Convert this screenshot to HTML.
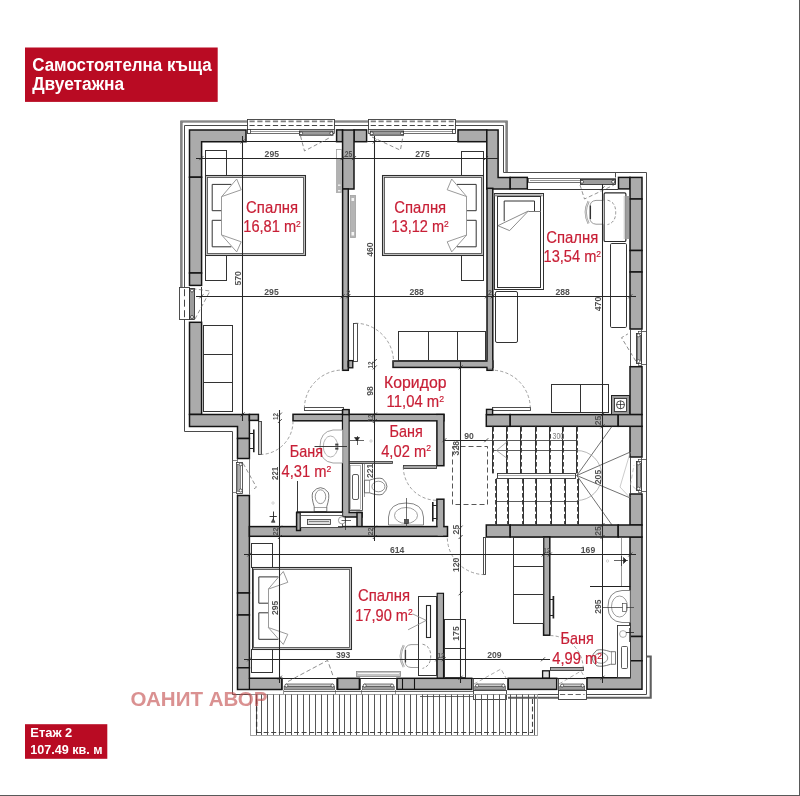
<!DOCTYPE html>
<html lang="bg">
<head>
<meta charset="utf-8">
<title>Самостоятелна къща - Етаж 2</title>
<style>
html,body{margin:0;padding:0;background:#fff;}
body{width:800px;height:796px;overflow:hidden;position:relative;font-family:"Liberation Sans",sans-serif;}
svg{position:absolute;left:0;top:0;display:block;will-change:transform;}
svg text{font-family:"Liberation Sans",sans-serif;}
</style>
</head>
<body>
<svg width="800" height="796" viewBox="0 0 800 796">
<rect x="0" y="0" width="800" height="796" fill="#ffffff"/>
<rect x="799" y="0" width="1" height="796" fill="#595959"/>
<rect x="0" y="795" width="800" height="1" fill="#595959"/>
<path d="M181.40,287.20 L181.40,121.50 L506.60,121.50 L506.60,172.50" fill="none" stroke="#5a5a5a" stroke-width="2.2" />
<path d="M181.40,287.20 L181.40,121.50 L506.60,121.50 L506.60,172.50" fill="none" stroke="#9c9c9c" stroke-width="0.7" />
<path d="M232.50,690.00 L232.50,431.50 L184.50,431.50 L184.50,125.50 L503.50,125.50 L503.50,172.50 L646.50,172.50 L646.50,694.50 L508.00,694.50" fill="none" stroke="#4a4a4a" stroke-width="1" />
<path d="M232.50,689.00 L232.50,694.50 L257.00,694.50" fill="none" stroke="#4a4a4a" stroke-width="1" />
<line x1="615.50" y1="172.50" x2="615.50" y2="177.50" stroke="#4a4a4a" stroke-width="1" />
<path d="M646.50,656.50 L650.70,656.50 L650.70,697.80 L508.00,697.80" fill="none" stroke="#5e5e5e" stroke-width="2.1" />
<path d="M189.50,129.90 L246.00,129.90 L246.00,141.70 L201.60,141.70 L201.60,177.20 L189.50,177.20 Z" fill="#ababab" stroke="#141414" stroke-width="1.5" stroke-linejoin="miter"/>
<rect x="189.50" y="177.20" width="12.10" height="95.80" fill="#ababab" stroke="#141414" stroke-width="1.5"/>
<rect x="189.50" y="273.00" width="12.10" height="12.40" fill="#ababab" stroke="#141414" stroke-width="1.5"/>
<rect x="336.60" y="129.90" width="6.00" height="11.80" fill="#ababab" stroke="#141414" stroke-width="1.5"/>
<rect x="354.00" y="129.90" width="12.60" height="11.80" fill="#ababab" stroke="#141414" stroke-width="1.5"/>
<rect x="458.00" y="129.90" width="28.80" height="11.80" fill="#ababab" stroke="#141414" stroke-width="1.5"/>
<path d="M486.80,129.90 L498.10,129.90 L498.10,177.40 L510.20,177.40 L510.20,188.90 L486.80,188.90 Z" fill="#ababab" stroke="#141414" stroke-width="1.5" stroke-linejoin="miter"/>
<rect x="189.50" y="322.30" width="12.10" height="92.10" fill="#ababab" stroke="#141414" stroke-width="1.5"/>
<path d="M189.50,414.40 L249.40,414.40 L249.40,438.50 L237.50,438.50 L237.50,426.40 L189.50,426.40 Z" fill="#ababab" stroke="#141414" stroke-width="1.5" stroke-linejoin="miter"/>
<rect x="237.50" y="438.50" width="11.90" height="20.00" fill="#ababab" stroke="#141414" stroke-width="1.5"/>
<rect x="237.50" y="495.50" width="11.90" height="97.50" fill="#ababab" stroke="#141414" stroke-width="1.5"/>
<rect x="237.50" y="593.00" width="11.90" height="22.00" fill="#ababab" stroke="#141414" stroke-width="1.5"/>
<rect x="237.50" y="615.00" width="11.90" height="52.80" fill="#ababab" stroke="#141414" stroke-width="1.5"/>
<path d="M237.50,667.80 L249.40,667.80 L249.40,678.30 L281.80,678.30 L281.80,689.40 L237.50,689.40 Z" fill="#ababab" stroke="#141414" stroke-width="1.5" stroke-linejoin="miter"/>
<line x1="249.40" y1="678.30" x2="249.40" y2="689.40" stroke="#141414" stroke-width="1.3" />
<rect x="510.20" y="177.40" width="17.10" height="11.50" fill="#ababab" stroke="#141414" stroke-width="1.5"/>
<rect x="618.50" y="177.40" width="11.50" height="11.50" fill="#ababab" stroke="#141414" stroke-width="1.5"/>
<rect x="630.00" y="177.40" width="12.00" height="21.60" fill="#ababab" stroke="#141414" stroke-width="1.5"/>
<rect x="630.00" y="199.00" width="12.00" height="51.50" fill="#ababab" stroke="#141414" stroke-width="1.5"/>
<rect x="630.00" y="250.50" width="12.00" height="21.50" fill="#ababab" stroke="#141414" stroke-width="1.5"/>
<rect x="630.00" y="272.00" width="12.00" height="57.00" fill="#ababab" stroke="#141414" stroke-width="1.5"/>
<rect x="630.00" y="366.70" width="12.00" height="47.90" fill="#ababab" stroke="#141414" stroke-width="1.5"/>
<rect x="630.00" y="426.30" width="12.00" height="30.70" fill="#ababab" stroke="#141414" stroke-width="1.5"/>
<rect x="630.00" y="494.00" width="12.00" height="31.00" fill="#ababab" stroke="#141414" stroke-width="1.5"/>
<rect x="630.00" y="537.00" width="12.00" height="99.50" fill="#ababab" stroke="#141414" stroke-width="1.5"/>
<rect x="630.00" y="636.50" width="12.00" height="24.30" fill="#ababab" stroke="#141414" stroke-width="1.5"/>
<path d="M630.00,660.80 L642.00,660.80 L642.00,689.30 L587.00,689.30 L587.00,677.80 L630.00,677.80 Z" fill="#ababab" stroke="#141414" stroke-width="1.5" stroke-linejoin="miter"/>
<rect x="337.60" y="678.30" width="21.80" height="11.10" fill="#ababab" stroke="#141414" stroke-width="1.5"/>
<rect x="397.00" y="678.30" width="74.80" height="11.10" fill="#ababab" stroke="#141414" stroke-width="1.5"/>
<line x1="402.50" y1="678.30" x2="402.50" y2="689.40" stroke="#141414" stroke-width="1.1" />
<line x1="414.50" y1="678.30" x2="414.50" y2="689.40" stroke="#141414" stroke-width="1.1" />
<rect x="508.20" y="678.30" width="48.50" height="11.10" fill="#ababab" stroke="#141414" stroke-width="1.5"/>
<rect x="486.30" y="414.60" width="23.90" height="11.70" fill="#ababab" stroke="#141414" stroke-width="1.5"/>
<rect x="510.20" y="414.60" width="108.00" height="11.70" fill="#ababab" stroke="#141414" stroke-width="1.5"/>
<rect x="618.20" y="414.60" width="23.80" height="11.70" fill="#ababab" stroke="#141414" stroke-width="1.5"/>
<rect x="486.30" y="525.00" width="23.90" height="12.00" fill="#ababab" stroke="#141414" stroke-width="1.5"/>
<rect x="510.20" y="525.00" width="108.00" height="12.00" fill="#ababab" stroke="#141414" stroke-width="1.5"/>
<rect x="618.20" y="525.00" width="23.80" height="12.00" fill="#ababab" stroke="#141414" stroke-width="1.5"/>
<rect x="342.60" y="130.00" width="11.40" height="59.00" fill="#ababab" stroke="#141414" stroke-width="1.5"/>
<rect x="342.60" y="189.00" width="5.70" height="181.30" fill="#ababab" stroke="#141414" stroke-width="1.5"/>
<rect x="348.30" y="361.50" width="3.70" height="5.00" fill="#ababab" stroke="#141414" stroke-width="1.5"/>
<rect x="487.00" y="188.30" width="5.80" height="182.00" fill="#ababab" stroke="#141414" stroke-width="1.5"/>
<rect x="393.00" y="361.00" width="99.80" height="6.40" fill="#ababab" stroke="#141414" stroke-width="1.5"/>
<rect x="487.6" y="360" width="4.6" height="8" fill="#ababab"/>
<rect x="293.00" y="414.30" width="150.90" height="6.50" fill="#ababab" stroke="#141414" stroke-width="1.5"/>
<rect x="249.40" y="414.40" width="9.00" height="6.00" fill="#ababab" stroke="#141414" stroke-width="1.5"/>
<rect x="342.60" y="410.00" width="6.40" height="102.50" fill="#ababab" stroke="#141414" stroke-width="1.5"/>
<rect x="342.60" y="512.50" width="19.40" height="4.50" fill="#ababab" stroke="#141414" stroke-width="1.5"/>
<rect x="357.00" y="512.50" width="5.00" height="18.00" fill="#ababab" stroke="#141414" stroke-width="1.5"/>
<rect x="343.2" y="415.3" width="5.2" height="100" fill="#ababab"/>
<rect x="436.90" y="414.60" width="7.00" height="51.10" fill="#ababab" stroke="#141414" stroke-width="1.5"/>
<rect x="430" y="415.1" width="13.1" height="5" fill="#ababab"/>
<rect x="436.90" y="499.20" width="7.00" height="28.40" fill="#ababab" stroke="#141414" stroke-width="1.5"/>
<rect x="249.40" y="526.60" width="198.10" height="9.70" fill="#ababab" stroke="#141414" stroke-width="1.5"/>
<rect x="437.7" y="520" width="5.4" height="15.5" fill="#ababab"/>
<rect x="296.60" y="512.60" width="3.80" height="17.90" fill="#ababab" stroke="#141414" stroke-width="1.5"/>
<rect x="543.60" y="537.00" width="6.20" height="98.20" fill="#ababab" stroke="#141414" stroke-width="1.5"/>
<rect x="542.60" y="670.80" width="6.80" height="7.20" fill="#e0e0e0" stroke="#141414" stroke-width="1.3"/>
<rect x="437.20" y="593.30" width="6.30" height="84.70" fill="#ababab" stroke="#141414" stroke-width="1.15"/>
<rect x="247.50" y="119.50" width="87.00" height="10.00" fill="#fff" stroke="#3c3c3c" stroke-width="0.9" />
<line x1="249.50" y1="121.40" x2="332.60" y2="121.40" stroke="#808080" stroke-width="1.8" stroke-dasharray="5.2 2.6"/>
<line x1="249.50" y1="125.50" x2="332.60" y2="125.50" stroke="#444" stroke-width="1" stroke-dasharray="5.2 2.6"/>
<rect x="247.50" y="129.50" width="87.00" height="4.00" fill="#fff" stroke="#333" stroke-width="0.7" />
<line x1="250.50" y1="131.50" x2="299.50" y2="131.50" stroke="#555" stroke-width="0.6" />
<rect x="247.50" y="129.50" width="3.00" height="4.00" fill="#fff" stroke="#222" stroke-width="0.7" />
<rect x="299.50" y="131" width="33.50" height="4.2" fill="#9c9c9c" stroke="#222" stroke-width="0.8"/>
<circle cx="301.10" cy="133.3" r="1.5" fill="#fff" stroke="#222" stroke-width="0.7"/>
<circle cx="331.40" cy="133.3" r="1.5" fill="#fff" stroke="#222" stroke-width="0.7"/>
<line x1="246.00" y1="141.50" x2="336.60" y2="141.50" stroke="#222" stroke-width="1" />
<path d="M300.50,136.00 L304.50,151.00 L331.00,137.00" fill="none" stroke="#707070" stroke-width="0.8" stroke-dasharray="4 2.5"/>
<rect x="368.50" y="119.50" width="87.00" height="10.00" fill="#fff" stroke="#3c3c3c" stroke-width="0.9" />
<line x1="370.70" y1="121.40" x2="453.70" y2="121.40" stroke="#808080" stroke-width="1.8" stroke-dasharray="5.2 2.6"/>
<line x1="370.70" y1="125.50" x2="453.70" y2="125.50" stroke="#444" stroke-width="1" stroke-dasharray="5.2 2.6"/>
<rect x="368.50" y="129.50" width="87.00" height="4.00" fill="#fff" stroke="#333" stroke-width="0.7" />
<line x1="403.60" y1="131.50" x2="452.70" y2="131.50" stroke="#555" stroke-width="0.6" />
<rect x="452.50" y="129.50" width="3.00" height="4.00" fill="#fff" stroke="#222" stroke-width="0.7" />
<rect x="370.20" y="131" width="33.40" height="4.2" fill="#9c9c9c" stroke="#222" stroke-width="0.8"/>
<circle cx="371.80" cy="133.3" r="1.5" fill="#fff" stroke="#222" stroke-width="0.7"/>
<circle cx="402.00" cy="133.3" r="1.5" fill="#fff" stroke="#222" stroke-width="0.7"/>
<line x1="367.20" y1="141.50" x2="457.70" y2="141.50" stroke="#222" stroke-width="1" />
<path d="M372.00,137.00 L400.40,150.20 L403.00,136.00" fill="none" stroke="#707070" stroke-width="0.8" stroke-dasharray="4 2.5"/>
<rect x="528.50" y="178.50" width="87.00" height="4.00" fill="#fff" stroke="#333" stroke-width="0.7" />
<line x1="530.00" y1="180.50" x2="580.00" y2="180.50" stroke="#555" stroke-width="0.6" />
<rect x="580.50" y="179.50" width="35.00" height="5.00" fill="#9c9c9c" stroke="#222" stroke-width="0.8" />
<circle cx="582" cy="181.8" r="1.5" fill="#fff" stroke="#222" stroke-width="0.7"/>
<circle cx="613.2" cy="181.8" r="1.5" fill="#fff" stroke="#222" stroke-width="0.7"/>
<line x1="527.30" y1="189.50" x2="618.00" y2="189.50" stroke="#222" stroke-width="0.9" />
<path d="M580.00,185.00 L584.50,199.00 L614.00,185.00" fill="none" stroke="#666" stroke-width="0.7" stroke-dasharray="4 2.5"/>
<rect x="179.50" y="287.50" width="10.00" height="32.00" fill="#fff" stroke="#3c3c3c" stroke-width="0.9" />
<line x1="184.50" y1="289.20" x2="184.50" y2="317.60" stroke="#444" stroke-width="1" stroke-dasharray="7 3.5"/>
<rect x="189.50" y="288.50" width="5.00" height="31.00" fill="#9c9c9c" stroke="#222" stroke-width="0.8" />
<circle cx="192" cy="290.5" r="1.5" fill="#fff" stroke="#222" stroke-width="0.7"/>
<circle cx="192" cy="317" r="1.5" fill="#fff" stroke="#222" stroke-width="0.7"/>
<line x1="201.50" y1="287.00" x2="201.50" y2="322.70" stroke="#222" stroke-width="0.9" />
<path d="M195.00,319.00 L210.00,291.00 L195.00,289.00" fill="none" stroke="#666" stroke-width="0.7" stroke-dasharray="4 2.5"/>
<line x1="249.50" y1="458.60" x2="249.50" y2="494.70" stroke="#555" stroke-width="0.8" />
<line x1="237.50" y1="458.60" x2="237.50" y2="494.70" stroke="#444" stroke-width="0.7" />
<rect x="236.50" y="462.50" width="6.00" height="31.00" fill="#fff" stroke="#333" stroke-width="0.8" />
<rect x="237.50" y="464.50" width="3.00" height="27.00" fill="#ababab" stroke="#555" stroke-width="0.6" />
<circle cx="240.7" cy="464.3" r="1.5" fill="#fff" stroke="#333" stroke-width="0.7"/>
<circle cx="240.7" cy="490.5" r="1.5" fill="#fff" stroke="#333" stroke-width="0.7"/>
<line x1="232.70" y1="460.50" x2="237.00" y2="460.50" stroke="#666" stroke-width="0.8" />
<line x1="232.70" y1="492.50" x2="237.00" y2="492.50" stroke="#666" stroke-width="0.8" />
<path d="M243.20,463.50 L256.40,487.20 L251.90,490.20" fill="none" stroke="#777" stroke-width="0.8" stroke-dasharray="4 2.5"/>
<line x1="630.50" y1="329.40" x2="630.50" y2="366.10" stroke="#222" stroke-width="0.8" />
<line x1="641.50" y1="329.40" x2="641.50" y2="366.10" stroke="#333" stroke-width="0.8" />
<rect x="636.50" y="333.50" width="5.00" height="30.00" fill="#fff" stroke="#333" stroke-width="0.9" />
<rect x="637.50" y="335.50" width="3.00" height="25.00" fill="#b4b4b4" stroke="#444" stroke-width="0.7" />
<rect x="638.50" y="331.50" width="3.00" height="2.00" fill="#fff" stroke="#333" stroke-width="0.6" />
<rect x="638.50" y="363.50" width="3.00" height="2.00" fill="#fff" stroke="#333" stroke-width="0.6" />
<circle cx="638.5" cy="335.30" r="1.5" fill="#fff" stroke="#333" stroke-width="0.7"/>
<circle cx="638.5" cy="361.10" r="1.5" fill="#fff" stroke="#333" stroke-width="0.7"/>
<line x1="641.80" y1="331.50" x2="646.70" y2="331.50" stroke="#444" stroke-width="0.8" />
<line x1="641.80" y1="364.50" x2="646.70" y2="364.50" stroke="#444" stroke-width="0.8" />
<line x1="630.50" y1="457.40" x2="630.50" y2="493.60" stroke="#222" stroke-width="0.8" />
<line x1="641.50" y1="457.40" x2="641.50" y2="493.60" stroke="#333" stroke-width="0.8" />
<rect x="636.50" y="461.50" width="5.00" height="29.00" fill="#fff" stroke="#333" stroke-width="0.9" />
<rect x="637.50" y="463.50" width="3.00" height="24.00" fill="#b4b4b4" stroke="#444" stroke-width="0.7" />
<rect x="638.50" y="459.50" width="3.00" height="2.00" fill="#fff" stroke="#333" stroke-width="0.6" />
<rect x="638.50" y="490.50" width="3.00" height="2.00" fill="#fff" stroke="#333" stroke-width="0.6" />
<circle cx="638.5" cy="463.30" r="1.5" fill="#fff" stroke="#333" stroke-width="0.7"/>
<circle cx="638.5" cy="488.60" r="1.5" fill="#fff" stroke="#333" stroke-width="0.7"/>
<line x1="641.80" y1="459.50" x2="646.70" y2="459.50" stroke="#444" stroke-width="0.8" />
<line x1="641.80" y1="491.50" x2="646.70" y2="491.50" stroke="#444" stroke-width="0.8" />
<path d="M635.80,361.10 L621.50,337.70 L627.90,333.90" fill="none" stroke="#707070" stroke-width="0.8" stroke-dasharray="4 2.5"/>
<path d="M635.80,489.00 L630.50,484.50 L634.00,465.00" fill="none" stroke="#aaa" stroke-width="0.7" stroke-dasharray="4 2.5"/>
<line x1="281.10" y1="678.50" x2="337.60" y2="678.50" stroke="#222" stroke-width="1.1" />
<rect x="284.10" y="686.4" width="50.50" height="3.4" fill="#9c9c9c" stroke="#444" stroke-width="0.6"/>
<rect x="285.30" y="684.1" width="48.10" height="2.1" rx="1" fill="#fff" stroke="#333" stroke-width="0.8"/>
<circle cx="286.40" cy="685.6" r="1.5" fill="#fff" stroke="#333" stroke-width="0.7"/>
<circle cx="332.50" cy="685.6" r="1.5" fill="#fff" stroke="#333" stroke-width="0.7"/>
<line x1="282.50" y1="678.10" x2="282.50" y2="690.00" stroke="#333" stroke-width="0.8" />
<line x1="336.50" y1="678.10" x2="336.50" y2="690.00" stroke="#333" stroke-width="0.8" />
<line x1="283.50" y1="690.00" x2="283.50" y2="694.00" stroke="#666" stroke-width="0.7" />
<line x1="335.50" y1="690.00" x2="335.50" y2="694.00" stroke="#666" stroke-width="0.7" />
<line x1="359.40" y1="678.50" x2="397.20" y2="678.50" stroke="#222" stroke-width="1.1" />
<rect x="362.40" y="686.4" width="31.80" height="3.4" fill="#9c9c9c" stroke="#444" stroke-width="0.6"/>
<rect x="363.60" y="684.1" width="29.40" height="2.1" rx="1" fill="#fff" stroke="#333" stroke-width="0.8"/>
<circle cx="364.70" cy="685.6" r="1.5" fill="#fff" stroke="#333" stroke-width="0.7"/>
<circle cx="392.10" cy="685.6" r="1.5" fill="#fff" stroke="#333" stroke-width="0.7"/>
<line x1="360.50" y1="678.10" x2="360.50" y2="690.00" stroke="#333" stroke-width="0.8" />
<line x1="396.50" y1="678.10" x2="396.50" y2="690.00" stroke="#333" stroke-width="0.8" />
<line x1="361.50" y1="690.00" x2="361.50" y2="694.00" stroke="#666" stroke-width="0.7" />
<line x1="395.50" y1="690.00" x2="395.50" y2="694.00" stroke="#666" stroke-width="0.7" />
<line x1="471.80" y1="678.50" x2="508.50" y2="678.50" stroke="#222" stroke-width="1.1" />
<rect x="474.80" y="686.4" width="30.70" height="3.4" fill="#9c9c9c" stroke="#444" stroke-width="0.6"/>
<rect x="476.00" y="684.1" width="28.30" height="2.1" rx="1" fill="#fff" stroke="#333" stroke-width="0.8"/>
<circle cx="477.10" cy="685.6" r="1.5" fill="#fff" stroke="#333" stroke-width="0.7"/>
<circle cx="503.40" cy="685.6" r="1.5" fill="#fff" stroke="#333" stroke-width="0.7"/>
<line x1="473.50" y1="678.10" x2="473.50" y2="690.00" stroke="#333" stroke-width="0.8" />
<line x1="507.50" y1="678.10" x2="507.50" y2="690.00" stroke="#333" stroke-width="0.8" />
<rect x="473.50" y="690.50" width="33.00" height="9.00" fill="#fff" stroke="#3c3c3c" stroke-width="0.9" />
<line x1="475.00" y1="694.50" x2="505.30" y2="694.50" stroke="#555" stroke-width="0.9" stroke-dasharray="5.2 2.6"/>
<line x1="556.80" y1="678.50" x2="587.70" y2="678.50" stroke="#222" stroke-width="1.1" />
<rect x="559.80" y="686.4" width="24.90" height="3.4" fill="#9c9c9c" stroke="#444" stroke-width="0.6"/>
<rect x="561.00" y="684.1" width="22.50" height="2.1" rx="1" fill="#fff" stroke="#333" stroke-width="0.8"/>
<circle cx="562.10" cy="685.6" r="1.5" fill="#fff" stroke="#333" stroke-width="0.7"/>
<circle cx="582.60" cy="685.6" r="1.5" fill="#fff" stroke="#333" stroke-width="0.7"/>
<line x1="558.50" y1="678.10" x2="558.50" y2="690.00" stroke="#333" stroke-width="0.8" />
<line x1="586.50" y1="678.10" x2="586.50" y2="690.00" stroke="#333" stroke-width="0.8" />
<rect x="558.50" y="690.50" width="28.00" height="9.00" fill="#fff" stroke="#3c3c3c" stroke-width="0.9" />
<line x1="560.00" y1="694.50" x2="584.50" y2="694.50" stroke="#555" stroke-width="0.9" stroke-dasharray="5.2 2.6"/>
<path d="M288.00,681.50 L327.60,660.40 L333.60,677.50" fill="none" stroke="#707070" stroke-width="0.8" stroke-dasharray="4.5 2.5"/>
<path d="M474.00,684.00 L501.00,669.00 L506.00,678.00" fill="none" stroke="#888" stroke-width="0.7" stroke-dasharray="4 2.5"/>
<path d="M559.00,684.00 L581.00,671.00 L585.00,678.00" fill="none" stroke="#888" stroke-width="0.7" stroke-dasharray="4 2.5"/>
<rect x="356.50" y="671.50" width="44.00" height="5.00" fill="#c4c4c4" stroke="#8a8a8a" stroke-width="0.8" />
<line x1="358.00" y1="673.50" x2="399.00" y2="673.50" stroke="#f4f4f4" stroke-width="1" />
<rect x="250.50" y="694.50" width="287.00" height="41.00" fill="none" stroke="#9a9a9a" stroke-width="0.9" />
<line x1="256.50" y1="694.50" x2="256.50" y2="735.00" stroke="#4d4d4d" stroke-width="0.95" />
<line x1="261.50" y1="694.50" x2="261.50" y2="735.00" stroke="#4d4d4d" stroke-width="0.95" />
<line x1="267.50" y1="694.50" x2="267.50" y2="735.00" stroke="#4d4d4d" stroke-width="0.95" />
<line x1="273.50" y1="694.50" x2="273.50" y2="735.00" stroke="#4d4d4d" stroke-width="0.95" />
<line x1="279.50" y1="694.50" x2="279.50" y2="735.00" stroke="#4d4d4d" stroke-width="0.95" />
<line x1="285.50" y1="694.50" x2="285.50" y2="735.00" stroke="#4d4d4d" stroke-width="0.95" />
<line x1="291.50" y1="694.50" x2="291.50" y2="735.00" stroke="#4d4d4d" stroke-width="0.95" />
<line x1="297.50" y1="694.50" x2="297.50" y2="735.00" stroke="#4d4d4d" stroke-width="0.95" />
<line x1="303.50" y1="694.50" x2="303.50" y2="735.00" stroke="#4d4d4d" stroke-width="0.95" />
<line x1="309.50" y1="694.50" x2="309.50" y2="735.00" stroke="#4d4d4d" stroke-width="0.95" />
<line x1="315.50" y1="694.50" x2="315.50" y2="735.00" stroke="#4d4d4d" stroke-width="0.95" />
<line x1="321.50" y1="694.50" x2="321.50" y2="735.00" stroke="#4d4d4d" stroke-width="0.95" />
<line x1="327.50" y1="694.50" x2="327.50" y2="735.00" stroke="#4d4d4d" stroke-width="0.95" />
<line x1="333.50" y1="694.50" x2="333.50" y2="735.00" stroke="#4d4d4d" stroke-width="0.95" />
<line x1="339.50" y1="694.50" x2="339.50" y2="735.00" stroke="#4d4d4d" stroke-width="0.95" />
<line x1="344.50" y1="694.50" x2="344.50" y2="735.00" stroke="#4d4d4d" stroke-width="0.95" />
<line x1="350.50" y1="694.50" x2="350.50" y2="735.00" stroke="#4d4d4d" stroke-width="0.95" />
<line x1="356.50" y1="694.50" x2="356.50" y2="735.00" stroke="#4d4d4d" stroke-width="0.95" />
<line x1="362.50" y1="694.50" x2="362.50" y2="735.00" stroke="#4d4d4d" stroke-width="0.95" />
<line x1="368.50" y1="694.50" x2="368.50" y2="735.00" stroke="#4d4d4d" stroke-width="0.95" />
<line x1="374.50" y1="694.50" x2="374.50" y2="735.00" stroke="#4d4d4d" stroke-width="0.95" />
<line x1="380.50" y1="694.50" x2="380.50" y2="735.00" stroke="#4d4d4d" stroke-width="0.95" />
<line x1="386.50" y1="694.50" x2="386.50" y2="735.00" stroke="#4d4d4d" stroke-width="0.95" />
<line x1="392.50" y1="694.50" x2="392.50" y2="735.00" stroke="#4d4d4d" stroke-width="0.95" />
<line x1="398.50" y1="694.50" x2="398.50" y2="735.00" stroke="#4d4d4d" stroke-width="0.95" />
<line x1="404.50" y1="694.50" x2="404.50" y2="735.00" stroke="#4d4d4d" stroke-width="0.95" />
<line x1="410.50" y1="694.50" x2="410.50" y2="735.00" stroke="#4d4d4d" stroke-width="0.95" />
<line x1="416.50" y1="694.50" x2="416.50" y2="735.00" stroke="#4d4d4d" stroke-width="0.95" />
<line x1="422.50" y1="694.50" x2="422.50" y2="735.00" stroke="#4d4d4d" stroke-width="0.95" />
<line x1="427.50" y1="694.50" x2="427.50" y2="735.00" stroke="#4d4d4d" stroke-width="0.95" />
<line x1="433.50" y1="694.50" x2="433.50" y2="735.00" stroke="#4d4d4d" stroke-width="0.95" />
<line x1="439.50" y1="694.50" x2="439.50" y2="735.00" stroke="#4d4d4d" stroke-width="0.95" />
<line x1="445.50" y1="694.50" x2="445.50" y2="735.00" stroke="#4d4d4d" stroke-width="0.95" />
<line x1="451.50" y1="694.50" x2="451.50" y2="735.00" stroke="#4d4d4d" stroke-width="0.95" />
<line x1="457.50" y1="694.50" x2="457.50" y2="735.00" stroke="#4d4d4d" stroke-width="0.95" />
<line x1="463.50" y1="694.50" x2="463.50" y2="735.00" stroke="#4d4d4d" stroke-width="0.95" />
<line x1="469.50" y1="694.50" x2="469.50" y2="735.00" stroke="#4d4d4d" stroke-width="0.95" />
<line x1="475.50" y1="694.50" x2="475.50" y2="735.00" stroke="#4d4d4d" stroke-width="0.95" />
<line x1="481.50" y1="694.50" x2="481.50" y2="735.00" stroke="#4d4d4d" stroke-width="0.95" />
<line x1="487.50" y1="694.50" x2="487.50" y2="735.00" stroke="#4d4d4d" stroke-width="0.95" />
<line x1="493.50" y1="694.50" x2="493.50" y2="735.00" stroke="#4d4d4d" stroke-width="0.95" />
<line x1="499.50" y1="694.50" x2="499.50" y2="735.00" stroke="#4d4d4d" stroke-width="0.95" />
<line x1="505.50" y1="694.50" x2="505.50" y2="735.00" stroke="#4d4d4d" stroke-width="0.95" />
<line x1="510.50" y1="694.50" x2="510.50" y2="735.00" stroke="#4d4d4d" stroke-width="0.95" />
<line x1="516.50" y1="694.50" x2="516.50" y2="735.00" stroke="#4d4d4d" stroke-width="0.95" />
<line x1="522.50" y1="694.50" x2="522.50" y2="735.00" stroke="#4d4d4d" stroke-width="0.95" />
<line x1="528.50" y1="694.50" x2="528.50" y2="735.00" stroke="#4d4d4d" stroke-width="0.95" />
<line x1="534.50" y1="694.50" x2="534.50" y2="735.00" stroke="#4d4d4d" stroke-width="0.95" />
<line x1="256.00" y1="732.50" x2="533.00" y2="732.50" stroke="#444" stroke-width="1.1" stroke-dasharray="5 2.6"/>
<line x1="532.50" y1="699.00" x2="532.50" y2="733.00" stroke="#444" stroke-width="1.1" stroke-dasharray="5 2.6"/>
<line x1="256.60" y1="699.00" x2="256.60" y2="733.00" stroke="#333" stroke-width="1.3" stroke-dasharray="5 2.6"/>
<line x1="284.00" y1="691.50" x2="473.00" y2="691.50" stroke="#444" stroke-width="0.8" />
<line x1="420.00" y1="696.50" x2="473.00" y2="696.50" stroke="#444" stroke-width="0.8" />
<rect x="25" y="47.5" width="192.7" height="54.4" fill="#b90b23"/>
<text x="32.20" y="71.20" font-size="17.6" fill="#fff" text-anchor="start" font-weight="bold" textLength="179.6" lengthAdjust="spacingAndGlyphs" >Самостоятелна къща</text>
<text x="32.20" y="90.00" font-size="17.6" fill="#fff" text-anchor="start" font-weight="bold" textLength="92" lengthAdjust="spacingAndGlyphs" >Двуетажна</text>
<rect x="25" y="724.2" width="82.3" height="34.6" fill="#b90b23"/>
<text x="30.30" y="737.20" font-size="13.3" fill="#fff" text-anchor="start" font-weight="bold" textLength="42" lengthAdjust="spacingAndGlyphs" >Етаж 2</text>
<text x="30.30" y="754.00" font-size="13.3" fill="#fff" text-anchor="start" font-weight="bold" textLength="72.3" lengthAdjust="spacingAndGlyphs" >107.49 кв. м</text>
<rect x="205.50" y="150.50" width="21.00" height="25.00" fill="none" stroke="#333333" stroke-width="1" />
<rect x="205.50" y="255.50" width="21.00" height="25.00" fill="none" stroke="#333333" stroke-width="1" />
<rect x="205.50" y="175.50" width="100.00" height="80.00" fill="#c4c4c4" stroke="#2e2e2e" stroke-width="1.05" />
<rect x="207.50" y="177.50" width="96.00" height="76.00" fill="#fff" stroke="#444" stroke-width="0.8" />
<path d="M231.40,184.40 L212.20,184.40 L212.20,210.70 L221.70,210.70" fill="none" stroke="#333333" stroke-width="1" />
<path d="M221.70,220.30 L212.20,220.30 L212.20,246.80 L231.40,246.80" fill="none" stroke="#333333" stroke-width="1" />
<path d="M221.70,196.60 L236.70,179.00 L241.20,189.80 Z" fill="#fff" stroke="#8f8f8f" stroke-width="0.9" />
<path d="M221.70,235.00 L236.70,251.90 L241.20,241.80 Z" fill="#fff" stroke="#8f8f8f" stroke-width="0.9" />
<line x1="221.50" y1="196.60" x2="221.50" y2="235.00" stroke="#8f8f8f" stroke-width="0.9" />
<rect x="461.50" y="151.50" width="22.00" height="24.00" fill="none" stroke="#333333" stroke-width="1" />
<rect x="461.50" y="255.50" width="22.00" height="25.00" fill="none" stroke="#333333" stroke-width="1" />
<rect x="382.50" y="175.50" width="101.00" height="80.00" fill="#c4c4c4" stroke="#2e2e2e" stroke-width="1.05" />
<rect x="384.50" y="177.50" width="97.00" height="76.00" fill="#fff" stroke="#444" stroke-width="0.8" />
<path d="M457.00,184.40 L476.20,184.40 L476.20,210.70 L466.70,210.70" fill="none" stroke="#333333" stroke-width="1" />
<path d="M466.70,220.30 L476.20,220.30 L476.20,246.80 L457.00,246.80" fill="none" stroke="#333333" stroke-width="1" />
<path d="M466.70,196.60 L451.70,179.00 L447.20,189.80 Z" fill="#fff" stroke="#8f8f8f" stroke-width="0.9" />
<path d="M466.70,235.00 L451.70,251.90 L447.20,241.80 Z" fill="#fff" stroke="#8f8f8f" stroke-width="0.9" />
<line x1="466.50" y1="196.60" x2="466.50" y2="235.00" stroke="#8f8f8f" stroke-width="0.9" />
<rect x="251.50" y="543.50" width="21.00" height="24.00" fill="none" stroke="#333333" stroke-width="1" />
<rect x="251.50" y="649.50" width="21.00" height="23.00" fill="none" stroke="#333333" stroke-width="1" />
<rect x="252.50" y="567.50" width="99.00" height="82.00" fill="#c4c4c4" stroke="#2e2e2e" stroke-width="1.05" />
<rect x="253.50" y="569.50" width="96.00" height="78.00" fill="#fff" stroke="#444" stroke-width="0.8" />
<path d="M278.00,576.90 L258.80,576.90 L258.80,603.20 L268.30,603.20" fill="none" stroke="#333333" stroke-width="1" />
<path d="M268.30,612.80 L258.80,612.80 L258.80,639.30 L278.00,639.30" fill="none" stroke="#333333" stroke-width="1" />
<path d="M268.30,589.10 L283.30,571.50 L287.80,582.30 Z" fill="#fff" stroke="#8f8f8f" stroke-width="0.9" />
<path d="M268.30,627.50 L283.30,644.40 L287.80,634.30 Z" fill="#fff" stroke="#8f8f8f" stroke-width="0.9" />
<line x1="268.50" y1="589.10" x2="268.50" y2="627.50" stroke="#8f8f8f" stroke-width="0.9" />
<rect x="494.50" y="193.50" width="49.00" height="96.00" fill="#fff" stroke="#333333" stroke-width="1" />
<rect x="494.6" y="194.4" width="48" height="2" fill="#9a9a9a"/>
<rect x="497.50" y="196.50" width="43.00" height="91.00" fill="none" stroke="#333333" stroke-width="1" />
<path d="M534.50,211.00 L534.50,201.00 L504.20,201.00 L504.20,221.20" fill="none" stroke="#333333" stroke-width="1" />
<line x1="528.40" y1="211.50" x2="540.60" y2="211.50" stroke="#777" stroke-width="1" />
<path d="M528.40,211.00 L497.90,225.70 L509.60,230.60 Z" fill="#fff" stroke="#808080" stroke-width="0.9" />
<rect x="203.50" y="325.50" width="29.00" height="86.00" fill="#fff" stroke="#333333" stroke-width="1" />
<line x1="203.00" y1="354.50" x2="232.80" y2="354.50" stroke="#333333" stroke-width="1" />
<line x1="203.00" y1="382.50" x2="232.80" y2="382.50" stroke="#333333" stroke-width="1" />
<rect x="398.50" y="331.50" width="87.00" height="29.00" fill="#fff" stroke="#333333" stroke-width="1" />
<line x1="428.50" y1="331.50" x2="428.50" y2="360.00" stroke="#333333" stroke-width="1" />
<line x1="457.50" y1="331.50" x2="457.50" y2="360.00" stroke="#333333" stroke-width="1" />
<rect x="551.50" y="384.50" width="57.00" height="28.00" fill="#fff" stroke="#333333" stroke-width="1" />
<line x1="580.50" y1="384.30" x2="580.50" y2="412.70" stroke="#333333" stroke-width="1" />
<rect x="444.50" y="619.50" width="21.00" height="58.00" fill="#fff" stroke="#333333" stroke-width="1" />
<line x1="444.00" y1="648.50" x2="465.50" y2="648.50" stroke="#333333" stroke-width="1" />
<rect x="513.50" y="537.50" width="30.00" height="86.00" fill="#fff" stroke="#333333" stroke-width="1" />
<line x1="513.70" y1="566.50" x2="543.40" y2="566.50" stroke="#333333" stroke-width="1" />
<line x1="513.70" y1="594.50" x2="543.40" y2="594.50" stroke="#333333" stroke-width="1" />
<rect x="611.50" y="395.50" width="18.00" height="19.00" fill="#9a9a9a" stroke="#222" stroke-width="1" />
<rect x="614.50" y="398.50" width="12.00" height="13.00" fill="#fff" stroke="#222" stroke-width="0.8" />
<circle cx="620.5" cy="404.8" r="4" fill="#fff" stroke="#222" stroke-width="0.8"/>
<line x1="616.50" y1="404.50" x2="624.50" y2="404.50" stroke="#222" stroke-width="0.7" />
<line x1="620.50" y1="400.80" x2="620.50" y2="408.80" stroke="#222" stroke-width="0.7" />
<rect x="604.10" y="192.90" width="21.80" height="48.60" fill="#fff" stroke="#2a2a2a" stroke-width="1.2" rx="1.3"/>
<rect x="610.50" y="243.50" width="16.00" height="84.00" fill="#fff" stroke="#333333" stroke-width="1" rx="1.2"/>
<rect x="495.50" y="291.50" width="22.00" height="51.00" fill="#fff" stroke="#333333" stroke-width="1" rx="1.5"/>
<rect x="626.2" y="196" width="3" height="43" fill="#a0a0a0"/>
<rect x="623.6" y="196" width="1.8" height="43" fill="#d4d4d4"/>
<path d="M603.5,200.4 L596,200.4 Q590,201 590,206.5 L590,218 Q590,223.6 596,224.2 L603.5,224.2" fill="#fff" stroke="#8f8f8f" stroke-width="0.9" />
<line x1="590.40" y1="205.50" x2="590.40" y2="219.00" stroke="#333" stroke-width="1.3" />
<path d="M588.6,201.2 Q582.8,212.3 588.6,223.6" fill="none" stroke="#9a9a9a" stroke-width="2.2" />
<path d="M588.6,201.2 Q582.8,212.3 588.6,223.6" fill="none" stroke="#fff" stroke-width="0.6" />
<path d="M607.5,200.2 Q615.7,202 615.7,212.3 Q615.7,222.5 607.5,224.6" fill="none" stroke="#888" stroke-width="0.9" stroke-dasharray="3 2"/>
<rect x="418.50" y="596.50" width="18.00" height="79.00" fill="#fff" stroke="#333333" stroke-width="1" />
<rect x="426.50" y="605.50" width="4.00" height="32.00" fill="#fff" stroke="#2a2a2a" stroke-width="1.1" />
<path d="M408.10,629.80 L426.20,620.40 L412.60,613.90" fill="none" stroke="#888" stroke-width="0.8" />
<path d="M418,644.6 L411,644.6 Q405.1,645.2 405.1,651 L405.1,661.5 Q405.1,667 411,667.5 L418,667.5" fill="#fff" stroke="#8f8f8f" stroke-width="0.9" />
<line x1="405.50" y1="650.00" x2="405.50" y2="662.50" stroke="#444" stroke-width="1.2" />
<path d="M403.8,645.2 Q397.6,656 403.8,667" fill="none" stroke="#9a9a9a" stroke-width="2.2" />
<path d="M403.8,645.2 Q397.6,656 403.8,667" fill="none" stroke="#fff" stroke-width="0.6" />
<path d="M422.5,644.2 Q430.7,646 430.7,656 Q430.7,666 422.5,668.4" fill="none" stroke="#888" stroke-width="0.9" stroke-dasharray="3 2"/>
<rect x="336.50" y="149.50" width="5.00" height="43.00" fill="#fff" stroke="#a0a0a0" stroke-width="0.8" />
<rect x="336.6" y="159" width="5" height="33" fill="#b2b2b2"/>
<rect x="338" y="184.5" width="2.5" height="1.4" fill="#f0f0f0"/>
<rect x="338" y="190" width="2.5" height="1.4" fill="#f0f0f0"/>
<rect x="350.50" y="195.50" width="5.00" height="42.00" fill="#b4b4b4" stroke="#a0a0a0" stroke-width="0.8" />
<rect x="351.5" y="198" width="2.6" height="3" fill="#f4f4f4"/>
<rect x="351.5" y="232" width="2.6" height="3.5" fill="#f4f4f4"/>
<rect x="353.50" y="323.50" width="4.00" height="38.00" fill="#fff" stroke="#3c3c3c" stroke-width="0.9" />
<path d="M355.40,323.20 A38.50,38.50 0 0 1 393.50,361.70" fill="none" stroke="#777" stroke-width="0.7" stroke-dasharray="3.2 2.2"/>
<rect x="304.50" y="407.50" width="39.00" height="3.00" fill="#fff" stroke="#3c3c3c" stroke-width="0.9" />
<path d="M304.40,408.50 A38.60,38.60 0 0 1 343.00,370.00" fill="none" stroke="#777" stroke-width="0.7" stroke-dasharray="3.2 2.2"/>
<rect x="492.50" y="407.50" width="38.00" height="3.00" fill="#fff" stroke="#3c3c3c" stroke-width="0.9" />
<path d="M530.30,408.50 A38.30,38.30 0 0 0 492.00,370.20" fill="none" stroke="#777" stroke-width="0.7" stroke-dasharray="3.2 2.2"/>
<rect x="258.50" y="421.50" width="3.00" height="33.00" fill="#c8c8c8" stroke="#3c3c3c" stroke-width="0.9" />
<path d="M260.30,454.50 A33.10,33.10 0 0 0 293.00,421.40" fill="none" stroke="#777" stroke-width="0.7" stroke-dasharray="3.2 2.2"/>
<rect x="403.50" y="465.50" width="33.00" height="3.00" fill="#a6a6a6" stroke="#3c3c3c" stroke-width="0.9" />
<path d="M403.30,466.80 A33.50,33.50 0 0 0 436.80,500.30" fill="none" stroke="#777" stroke-width="0.7" stroke-dasharray="3.2 2.2"/>
<rect x="483.50" y="537.50" width="2.00" height="37.00" fill="#fff" stroke="#3c3c3c" stroke-width="0.9" />
<path d="M484.60,574.60 A37.60,37.60 0 0 1 447.30,537.00" fill="none" stroke="#777" stroke-width="0.7" stroke-dasharray="3.2 2.2"/>
<rect x="550.50" y="667.50" width="33.00" height="3.00" fill="#a8a8a8" stroke="#3c3c3c" stroke-width="0.9" />
<path d="M583.20,668.80 A33.20,33.20 0 0 0 550.00,635.60" fill="none" stroke="#777" stroke-width="0.7" stroke-dasharray="3.2 2.2"/>
<rect x="348.60" y="360.60" width="4.20" height="7.20" fill="#ababab" stroke="#151515" stroke-width="1.3" />
<rect x="486.50" y="409.40" width="6.10" height="5.20" fill="#ababab" stroke="#151515" stroke-width="1.4" />
<rect x="342.60" y="409.60" width="6.40" height="5.00" fill="#ababab" stroke="#151515" stroke-width="1.4" />
<rect x="452.50" y="446.50" width="35.00" height="58.00" fill="none" stroke="#444" stroke-width="0.9" stroke-dasharray="5 3"/>
<line x1="492.50" y1="426.30" x2="492.50" y2="473.40" stroke="#333" stroke-width="1" />
<line x1="493.50" y1="427.00" x2="493.50" y2="473.40" stroke="#4a4a4a" stroke-width="1" stroke-dasharray="4.6 2.4"/>
<line x1="506.50" y1="426.30" x2="506.50" y2="473.40" stroke="#333" stroke-width="1" />
<line x1="507.50" y1="427.00" x2="507.50" y2="473.40" stroke="#4a4a4a" stroke-width="1" stroke-dasharray="4.6 2.4"/>
<line x1="520.50" y1="426.30" x2="520.50" y2="473.40" stroke="#333" stroke-width="1" />
<line x1="521.50" y1="427.00" x2="521.50" y2="473.40" stroke="#4a4a4a" stroke-width="1" stroke-dasharray="4.6 2.4"/>
<line x1="535.50" y1="426.30" x2="535.50" y2="473.40" stroke="#333" stroke-width="1" />
<line x1="536.50" y1="427.00" x2="536.50" y2="473.40" stroke="#4a4a4a" stroke-width="1" stroke-dasharray="4.6 2.4"/>
<line x1="549.50" y1="426.30" x2="549.50" y2="473.40" stroke="#333" stroke-width="1" />
<line x1="550.50" y1="427.00" x2="550.50" y2="473.40" stroke="#4a4a4a" stroke-width="1" stroke-dasharray="4.6 2.4"/>
<line x1="562.50" y1="426.30" x2="562.50" y2="473.40" stroke="#333" stroke-width="1" />
<line x1="563.50" y1="427.00" x2="563.50" y2="473.40" stroke="#4a4a4a" stroke-width="1" stroke-dasharray="4.6 2.4"/>
<line x1="576.50" y1="426.30" x2="576.50" y2="473.40" stroke="#333" stroke-width="1" />
<line x1="577.50" y1="427.00" x2="577.50" y2="473.40" stroke="#4a4a4a" stroke-width="1" stroke-dasharray="4.6 2.4"/>
<line x1="496.50" y1="478.30" x2="496.50" y2="525.00" stroke="#333" stroke-width="1" />
<line x1="495.50" y1="479.00" x2="495.50" y2="524.50" stroke="#4a4a4a" stroke-width="1" stroke-dasharray="4.6 2.4"/>
<line x1="508.50" y1="478.30" x2="508.50" y2="525.00" stroke="#333" stroke-width="1" />
<line x1="507.50" y1="479.00" x2="507.50" y2="524.50" stroke="#4a4a4a" stroke-width="1" stroke-dasharray="4.6 2.4"/>
<line x1="523.50" y1="478.30" x2="523.50" y2="525.00" stroke="#333" stroke-width="1" />
<line x1="522.50" y1="479.00" x2="522.50" y2="524.50" stroke="#4a4a4a" stroke-width="1" stroke-dasharray="4.6 2.4"/>
<line x1="536.50" y1="478.30" x2="536.50" y2="525.00" stroke="#333" stroke-width="1" />
<line x1="535.50" y1="479.00" x2="535.50" y2="524.50" stroke="#4a4a4a" stroke-width="1" stroke-dasharray="4.6 2.4"/>
<line x1="551.50" y1="478.30" x2="551.50" y2="525.00" stroke="#333" stroke-width="1" />
<line x1="550.50" y1="479.00" x2="550.50" y2="524.50" stroke="#4a4a4a" stroke-width="1" stroke-dasharray="4.6 2.4"/>
<line x1="565.50" y1="478.30" x2="565.50" y2="525.00" stroke="#333" stroke-width="1" />
<line x1="564.50" y1="479.00" x2="564.50" y2="524.50" stroke="#4a4a4a" stroke-width="1" stroke-dasharray="4.6 2.4"/>
<line x1="578.50" y1="478.30" x2="578.50" y2="525.00" stroke="#333" stroke-width="1" />
<line x1="577.50" y1="479.00" x2="577.50" y2="524.50" stroke="#4a4a4a" stroke-width="1" stroke-dasharray="4.6 2.4"/>
<line x1="486.30" y1="440.50" x2="577.50" y2="440.50" stroke="#333" stroke-width="0.8" />
<line x1="493.00" y1="450.50" x2="577.50" y2="450.50" stroke="#333" stroke-width="0.8" />
<line x1="496.00" y1="501.50" x2="578.50" y2="501.50" stroke="#333" stroke-width="0.8" />
<rect x="497.50" y="473.50" width="78.00" height="5.00" fill="#fff" stroke="#333" stroke-width="0.9" />
<line x1="498.00" y1="475.50" x2="574.60" y2="475.50" stroke="#777" stroke-width="0.6" />
<path d="M508.00,441.00 L496.50,450.50 L508.00,459.00" fill="none" stroke="#888" stroke-width="0.7" />
<path d="M496.50,450.50 L508.00,450.50" fill="none" stroke="#888" stroke-width="0.6" />
<line x1="576.80" y1="475.50" x2="612.00" y2="426.30" stroke="#333" stroke-width="0.7" />
<line x1="576.80" y1="475.50" x2="630.30" y2="452.00" stroke="#333" stroke-width="0.7" />
<line x1="576.80" y1="475.50" x2="630.30" y2="498.00" stroke="#333" stroke-width="0.7" />
<line x1="576.80" y1="475.50" x2="612.00" y2="525.00" stroke="#333" stroke-width="0.7" />
<path d="M576.8,450.5 A25,25 0 0 1 576.8,500.5" fill="none" stroke="#888" stroke-width="0.6" />
<path d="M630.30,452.00 L620.00,487.00 L630.30,498.00" fill="none" stroke="#aaa" stroke-width="0.6" />
<path d="M342.6,430 L333,430 Q320,431.5 320,446.5 Q320,461.5 333,463 L342.6,463 Z" fill="#fff" stroke="#9a9a9a" stroke-width="0.9" />
<ellipse cx="330.5" cy="446.5" rx="7.2" ry="10.5" fill="#fff" stroke="#a0a0a0" stroke-width="0.8"/>
<line x1="314.50" y1="446.50" x2="347.00" y2="446.50" stroke="#2a2a2a" stroke-width="0.9" />
<rect x="335.2" y="443.6" width="3.2" height="2" fill="#444"/>
<rect x="335.2" y="447.6" width="3.2" height="2" fill="#444"/>
<path d="M314.2,511.5 L314.2,506.5 Q311.2,497.475 312.7,492.375 Q320.5,482.94 328.3,492.375 Q329.8,497.475 326.8,506.5 L326.8,511.5 Z" fill="#fff" stroke="#555" stroke-width="0.8" />
<ellipse cx="320.5" cy="496.71" rx="5.28" ry="6.89" fill="#fff" stroke="#666" stroke-width="0.7"/>
<line x1="314.20" y1="507.50" x2="326.80" y2="507.50" stroke="#666" stroke-width="0.6" />
<rect x="300.50" y="512.50" width="42.00" height="15.00" fill="#fff" stroke="#333" stroke-width="0.8" />
<rect x="307.50" y="519.50" width="23.00" height="5.00" fill="#ddd" stroke="#333" stroke-width="0.8" />
<line x1="309.00" y1="521.50" x2="329.00" y2="521.50" stroke="#444" stroke-width="0.6" />
<line x1="297.50" y1="481.00" x2="297.50" y2="512.60" stroke="#222" stroke-width="0.9" />
<rect x="296.4" y="511.3" width="46" height="1.5" fill="#1a1a1a"/>
<line x1="300.40" y1="515.50" x2="342.00" y2="515.50" stroke="#444" stroke-width="0.8" />
<line x1="253.80" y1="429.50" x2="253.80" y2="452.30" stroke="#1e1e1e" stroke-width="1.6" />
<line x1="249.60" y1="433.50" x2="253.40" y2="433.50" stroke="#222" stroke-width="1" />
<line x1="249.60" y1="448.50" x2="253.40" y2="448.50" stroke="#222" stroke-width="1" />
<circle cx="273" cy="503" r="1.2" fill="none" stroke="#aaa" stroke-width="0.5"/>
<circle cx="371" cy="441" r="1.2" fill="none" stroke="#aaa" stroke-width="0.5"/>
<circle cx="607.5" cy="561" r="1.2" fill="none" stroke="#aaa" stroke-width="0.5"/>
<line x1="273.50" y1="511.50" x2="273.50" y2="522.00" stroke="#222" stroke-width="0.9" />
<line x1="269.60" y1="516.50" x2="276.80" y2="516.50" stroke="#222" stroke-width="0.9" />
<path d="M271.40,522.30 L275.00,522.30 L273.20,518.80 Z" fill="#555" stroke="#222" stroke-width="0.6" />
<circle cx="342" cy="520.3" r="3.6" fill="#fff" stroke="#777" stroke-width="0.7"/>
<line x1="338.00" y1="526.50" x2="352.00" y2="526.50" stroke="#222" stroke-width="0.8" />
<line x1="341.50" y1="520.50" x2="351.00" y2="520.50" stroke="#222" stroke-width="0.7" />
<line x1="345.50" y1="516.00" x2="345.50" y2="530.00" stroke="#222" stroke-width="0.7" />
<rect x="349.50" y="463.50" width="13.00" height="47.00" fill="#fff" stroke="#333" stroke-width="0.8" />
<rect x="352.50" y="474.50" width="6.00" height="25.00" fill="#fff" stroke="#333" stroke-width="0.8" rx="1.5"/>
<rect x="350.50" y="465.50" width="10.00" height="44.00" fill="none" stroke="#777" stroke-width="0.5" />
<rect x="349.50" y="461.50" width="43.00" height="2.00" fill="#a6a6a6" stroke="#333" stroke-width="0.8" />
<path d="M364.5,480.2 L369.5,480.2 Q377.7,477.2 382.5,478.7 Q391.38,486.5 382.5,494.3 Q377.7,495.8 369.5,492.8 L364.5,492.8 Z" fill="#fff" stroke="#555" stroke-width="0.8" />
<ellipse cx="378.42" cy="486.5" rx="6.48" ry="5.28" fill="#fff" stroke="#666" stroke-width="0.7"/>
<line x1="369.50" y1="480.20" x2="369.50" y2="492.80" stroke="#666" stroke-width="0.6" />
<line x1="364.50" y1="463.00" x2="364.50" y2="497.00" stroke="#555" stroke-width="0.6" />
<path d="M388.5,525 L388.5,517 Q389.5,503 406,503 Q422.5,503 423.5,517 L423.5,525 Z" fill="#fff" stroke="#666" stroke-width="0.8" />
<ellipse cx="406" cy="515.5" rx="11.5" ry="8" fill="#fff" stroke="#777" stroke-width="0.7"/>
<line x1="406.50" y1="498.00" x2="406.50" y2="527.00" stroke="#333" stroke-width="0.7" />
<rect x="404.50" y="519.50" width="4.00" height="4.00" fill="#555" stroke="#333" stroke-width="0.7" />
<line x1="432.80" y1="502.00" x2="432.80" y2="521.50" stroke="#1e1e1e" stroke-width="1.6" />
<line x1="433.00" y1="505.50" x2="437.00" y2="505.50" stroke="#222" stroke-width="1" />
<line x1="433.00" y1="518.50" x2="437.00" y2="518.50" stroke="#222" stroke-width="1" />
<line x1="350.00" y1="440.50" x2="364.00" y2="440.50" stroke="#222" stroke-width="0.7" />
<line x1="357.50" y1="436.00" x2="357.50" y2="445.00" stroke="#222" stroke-width="0.7" />
<path d="M354.50,437.50 L359.50,437.50 L357.00,441.00 Z" fill="#222" stroke="#222" stroke-width="0.6" />
<line x1="590.00" y1="586.50" x2="630.30" y2="586.50" stroke="#222" stroke-width="1" />
<line x1="621.50" y1="537.00" x2="621.50" y2="586.00" stroke="#555" stroke-width="0.6" />
<path d="M630.3,590.5 L622,590.5 Q608,591.5 608,606.5 Q608,621.5 622,622.5 L630.3,622.5 Z" fill="#fff" stroke="#666" stroke-width="0.8" />
<ellipse cx="619.5" cy="606.5" rx="8" ry="10.5" fill="#fff" stroke="#777" stroke-width="0.7"/>
<line x1="603.00" y1="607.50" x2="634.00" y2="607.50" stroke="#333" stroke-width="0.7" />
<rect x="622.50" y="603.50" width="4.00" height="8.00" fill="#fff" stroke="#333" stroke-width="0.6" />
<rect x="617.50" y="625.50" width="13.00" height="52.00" fill="#fff" stroke="#333" stroke-width="0.9" />
<rect x="621.50" y="646.50" width="6.00" height="22.00" fill="#fff" stroke="#333" stroke-width="0.8" rx="1"/>
<circle cx="623" cy="634" r="3.4" fill="#fff" stroke="#888" stroke-width="0.7"/>
<line x1="626.00" y1="632.50" x2="634.00" y2="632.50" stroke="#222" stroke-width="0.8" />
<line x1="629.50" y1="628.00" x2="629.50" y2="642.00" stroke="#222" stroke-width="0.7" />
<path d="M615.5,651.7 L610.5,651.7 Q601.75,648.7 596.75,650.2 Q587.5,658 596.75,665.8 Q601.75,667.3 610.5,664.3 L615.5,664.3 Z" fill="#fff" stroke="#555" stroke-width="0.8" />
<ellipse cx="601.0" cy="658" rx="6.75" ry="5.28" fill="#fff" stroke="#666" stroke-width="0.7"/>
<line x1="611.50" y1="651.70" x2="611.50" y2="664.30" stroke="#666" stroke-width="0.6" />
<line x1="614.00" y1="560.50" x2="628.00" y2="560.50" stroke="#222" stroke-width="0.7" />
<line x1="621.50" y1="556.00" x2="621.50" y2="566.00" stroke="#222" stroke-width="0.7" />
<path d="M623.50,557.50 L626.50,560.50 L623.50,563.50 Z" fill="#222" stroke="#222" stroke-width="0.6" />
<line x1="553.40" y1="596.00" x2="553.40" y2="618.50" stroke="#1e1e1e" stroke-width="1.7" />
<line x1="549.80" y1="599.50" x2="553.00" y2="599.50" stroke="#222" stroke-width="1" />
<line x1="549.80" y1="615.50" x2="553.00" y2="615.50" stroke="#222" stroke-width="1" />
<line x1="196.00" y1="158.50" x2="498.00" y2="158.50" stroke="#262626" stroke-width="1.05" />
<line x1="199.40" y1="160.10" x2="203.40" y2="156.10" stroke="#262626" stroke-width="0.8" />
<line x1="340.60" y1="160.10" x2="344.60" y2="156.10" stroke="#262626" stroke-width="0.8" />
<line x1="352.00" y1="160.10" x2="356.00" y2="156.10" stroke="#262626" stroke-width="0.8" />
<line x1="484.00" y1="160.10" x2="488.00" y2="156.10" stroke="#262626" stroke-width="0.8" />
<line x1="196.00" y1="296.50" x2="636.00" y2="296.50" stroke="#262626" stroke-width="1.05" />
<line x1="199.40" y1="298.30" x2="203.40" y2="294.30" stroke="#262626" stroke-width="0.8" />
<line x1="340.60" y1="298.30" x2="344.60" y2="294.30" stroke="#262626" stroke-width="0.8" />
<line x1="346.30" y1="298.30" x2="350.30" y2="294.30" stroke="#262626" stroke-width="0.8" />
<line x1="485.00" y1="298.30" x2="489.00" y2="294.30" stroke="#262626" stroke-width="0.8" />
<line x1="490.80" y1="298.30" x2="494.80" y2="294.30" stroke="#262626" stroke-width="0.8" />
<line x1="628.30" y1="298.30" x2="632.30" y2="294.30" stroke="#262626" stroke-width="0.8" />
<line x1="444.40" y1="440.50" x2="486.30" y2="440.50" stroke="#262626" stroke-width="1.05" />
<line x1="442.40" y1="442.20" x2="446.40" y2="438.20" stroke="#262626" stroke-width="0.8" />
<line x1="484.30" y1="442.20" x2="488.30" y2="438.20" stroke="#262626" stroke-width="0.8" />
<line x1="244.00" y1="554.50" x2="636.00" y2="554.50" stroke="#262626" stroke-width="1.05" />
<line x1="247.30" y1="556.50" x2="251.30" y2="552.50" stroke="#262626" stroke-width="0.8" />
<line x1="541.60" y1="556.50" x2="545.60" y2="552.50" stroke="#262626" stroke-width="0.8" />
<line x1="547.80" y1="556.50" x2="551.80" y2="552.50" stroke="#262626" stroke-width="0.8" />
<line x1="628.30" y1="556.50" x2="632.30" y2="552.50" stroke="#262626" stroke-width="0.8" />
<line x1="244.00" y1="659.50" x2="550.00" y2="659.50" stroke="#262626" stroke-width="1.05" />
<line x1="247.30" y1="661.30" x2="251.30" y2="657.30" stroke="#262626" stroke-width="0.8" />
<line x1="435.30" y1="661.30" x2="439.30" y2="657.30" stroke="#262626" stroke-width="0.8" />
<line x1="441.60" y1="661.30" x2="445.60" y2="657.30" stroke="#262626" stroke-width="0.8" />
<line x1="541.00" y1="661.30" x2="545.00" y2="657.30" stroke="#262626" stroke-width="0.8" />
<line x1="242.50" y1="136.00" x2="242.50" y2="421.00" stroke="#262626" stroke-width="1.05" />
<line x1="240.60" y1="143.50" x2="244.60" y2="139.50" stroke="#262626" stroke-width="0.8" />
<line x1="240.60" y1="416.40" x2="244.60" y2="412.40" stroke="#262626" stroke-width="0.8" />
<line x1="374.50" y1="136.00" x2="374.50" y2="425.00" stroke="#262626" stroke-width="1.05" />
<line x1="372.80" y1="143.50" x2="376.80" y2="139.50" stroke="#262626" stroke-width="0.8" />
<line x1="372.80" y1="363.00" x2="376.80" y2="359.00" stroke="#262626" stroke-width="0.8" />
<line x1="372.80" y1="369.40" x2="376.80" y2="365.40" stroke="#262626" stroke-width="0.8" />
<line x1="372.80" y1="416.60" x2="376.80" y2="412.60" stroke="#262626" stroke-width="0.8" />
<line x1="372.80" y1="423.00" x2="376.80" y2="419.00" stroke="#262626" stroke-width="0.8" />
<line x1="602.50" y1="184.00" x2="602.50" y2="541.00" stroke="#262626" stroke-width="1.05" />
<line x1="600.50" y1="190.30" x2="604.50" y2="186.30" stroke="#262626" stroke-width="0.8" />
<line x1="600.50" y1="416.60" x2="604.50" y2="412.60" stroke="#262626" stroke-width="0.8" />
<line x1="600.50" y1="428.30" x2="604.50" y2="424.30" stroke="#262626" stroke-width="0.8" />
<line x1="600.50" y1="527.00" x2="604.50" y2="523.00" stroke="#262626" stroke-width="0.8" />
<line x1="600.50" y1="539.00" x2="604.50" y2="535.00" stroke="#262626" stroke-width="0.8" />
<line x1="602.50" y1="541.00" x2="602.50" y2="683.00" stroke="#262626" stroke-width="1.05" />
<line x1="600.50" y1="679.70" x2="604.50" y2="675.70" stroke="#262626" stroke-width="0.8" />
<line x1="460.50" y1="361.00" x2="460.50" y2="683.00" stroke="#262626" stroke-width="1.05" />
<line x1="458.60" y1="369.40" x2="462.60" y2="365.40" stroke="#262626" stroke-width="0.8" />
<line x1="458.60" y1="529.60" x2="462.60" y2="525.60" stroke="#262626" stroke-width="0.8" />
<line x1="458.60" y1="539.00" x2="462.60" y2="535.00" stroke="#262626" stroke-width="0.8" />
<line x1="458.60" y1="595.30" x2="462.60" y2="591.30" stroke="#262626" stroke-width="0.8" />
<line x1="458.60" y1="679.70" x2="462.60" y2="675.70" stroke="#262626" stroke-width="0.8" />
<line x1="279.50" y1="410.00" x2="279.50" y2="683.00" stroke="#262626" stroke-width="1.05" />
<line x1="277.90" y1="416.60" x2="281.90" y2="412.60" stroke="#262626" stroke-width="0.8" />
<line x1="277.90" y1="423.00" x2="281.90" y2="419.00" stroke="#262626" stroke-width="0.8" />
<line x1="277.90" y1="529.60" x2="281.90" y2="525.60" stroke="#262626" stroke-width="0.8" />
<line x1="277.90" y1="539.00" x2="281.90" y2="535.00" stroke="#262626" stroke-width="0.8" />
<line x1="277.90" y1="679.70" x2="281.90" y2="675.70" stroke="#262626" stroke-width="0.8" />
<line x1="374.50" y1="425.00" x2="374.50" y2="541.00" stroke="#262626" stroke-width="1.05" />
<line x1="372.80" y1="529.60" x2="376.80" y2="525.60" stroke="#262626" stroke-width="0.8" />
<line x1="372.80" y1="539.00" x2="376.80" y2="535.00" stroke="#262626" stroke-width="0.8" />
<text x="271.80" y="156.60" font-size="8.4" fill="#505050" text-anchor="middle" font-weight="bold" textLength="14.4" lengthAdjust="spacingAndGlyphs" >295</text>
<text x="348.60" y="156.80" font-size="8.4" fill="#505050" text-anchor="middle" font-weight="bold" textLength="7.6" lengthAdjust="spacingAndGlyphs" >25</text>
<text x="422.50" y="156.60" font-size="8.4" fill="#505050" text-anchor="middle" font-weight="bold" textLength="14.4" lengthAdjust="spacingAndGlyphs" >275</text>
<text x="271.50" y="294.60" font-size="8.4" fill="#505050" text-anchor="middle" font-weight="bold" textLength="14.4" lengthAdjust="spacingAndGlyphs" >295</text>
<text x="416.70" y="294.60" font-size="8.4" fill="#505050" text-anchor="middle" font-weight="bold" textLength="14.4" lengthAdjust="spacingAndGlyphs" >288</text>
<text x="562.60" y="294.60" font-size="8.4" fill="#505050" text-anchor="middle" font-weight="bold" textLength="14.4" lengthAdjust="spacingAndGlyphs" >288</text>
<text x="469.00" y="438.60" font-size="8.4" fill="#505050" text-anchor="middle" font-weight="bold" textLength="9.6" lengthAdjust="spacingAndGlyphs" >90</text>
<text x="558.30" y="438.60" font-size="8.2" fill="#7a7a7a" text-anchor="middle" font-weight="normal" textLength="11.5" lengthAdjust="spacingAndGlyphs" >300</text>
<text x="397.20" y="552.80" font-size="8.4" fill="#505050" text-anchor="middle" font-weight="bold" textLength="14.4" lengthAdjust="spacingAndGlyphs" >614</text>
<text x="588.00" y="552.80" font-size="8.4" fill="#505050" text-anchor="middle" font-weight="bold" textLength="14.4" lengthAdjust="spacingAndGlyphs" >169</text>
<text x="546.80" y="552.80" font-size="7.5" fill="#505050" text-anchor="middle" font-weight="bold" textLength="7" lengthAdjust="spacingAndGlyphs" >12</text>
<text x="343.20" y="657.60" font-size="8.4" fill="#505050" text-anchor="middle" font-weight="bold" textLength="14.4" lengthAdjust="spacingAndGlyphs" >393</text>
<text x="494.40" y="657.60" font-size="8.4" fill="#505050" text-anchor="middle" font-weight="bold" textLength="14.4" lengthAdjust="spacingAndGlyphs" >209</text>
<text x="441.00" y="657.60" font-size="7.5" fill="#505050" text-anchor="middle" font-weight="bold" textLength="7" lengthAdjust="spacingAndGlyphs" >12</text>
<text x="348.30" y="294.60" font-size="7.5" fill="#505050" text-anchor="middle" font-weight="bold" textLength="4" lengthAdjust="spacingAndGlyphs" >2</text>
<text x="490.00" y="294.60" font-size="7.5" fill="#505050" text-anchor="middle" font-weight="bold" textLength="4" lengthAdjust="spacingAndGlyphs" >2</text>
<text x="241.00" y="278.40" font-size="8.4" fill="#505050" text-anchor="middle" font-weight="bold" transform="rotate(-90 241.00 278.40)" textLength="14.4" lengthAdjust="spacingAndGlyphs" >570</text>
<text x="373.20" y="249.60" font-size="8.4" fill="#505050" text-anchor="middle" font-weight="bold" transform="rotate(-90 373.20 249.60)" textLength="14.4" lengthAdjust="spacingAndGlyphs" >460</text>
<text x="373.20" y="365.00" font-size="7.5" fill="#505050" text-anchor="middle" font-weight="bold" transform="rotate(-90 373.20 365.00)" textLength="7" lengthAdjust="spacingAndGlyphs" >12</text>
<text x="373.20" y="391.00" font-size="8.4" fill="#505050" text-anchor="middle" font-weight="bold" transform="rotate(-90 373.20 391.00)" textLength="9.6" lengthAdjust="spacingAndGlyphs" >98</text>
<text x="373.20" y="418.00" font-size="7.5" fill="#505050" text-anchor="middle" font-weight="bold" transform="rotate(-90 373.20 418.00)" textLength="7" lengthAdjust="spacingAndGlyphs" >12</text>
<text x="600.90" y="304.00" font-size="8.4" fill="#505050" text-anchor="middle" font-weight="bold" transform="rotate(-90 600.90 304.00)" textLength="14.4" lengthAdjust="spacingAndGlyphs" >470</text>
<text x="600.90" y="420.50" font-size="8.4" fill="#505050" text-anchor="middle" font-weight="bold" transform="rotate(-90 600.90 420.50)" textLength="9.6" lengthAdjust="spacingAndGlyphs" >25</text>
<text x="600.90" y="477.00" font-size="8.4" fill="#505050" text-anchor="middle" font-weight="bold" transform="rotate(-90 600.90 477.00)" textLength="14.4" lengthAdjust="spacingAndGlyphs" >205</text>
<text x="600.90" y="531.00" font-size="8.4" fill="#505050" text-anchor="middle" font-weight="bold" transform="rotate(-90 600.90 531.00)" textLength="9.6" lengthAdjust="spacingAndGlyphs" >25</text>
<text x="600.90" y="606.60" font-size="8.4" fill="#505050" text-anchor="middle" font-weight="bold" transform="rotate(-90 600.90 606.60)" textLength="14.4" lengthAdjust="spacingAndGlyphs" >295</text>
<text x="459.00" y="448.20" font-size="8.4" fill="#505050" text-anchor="middle" font-weight="bold" transform="rotate(-90 459.00 448.20)" textLength="14.4" lengthAdjust="spacingAndGlyphs" >328</text>
<text x="459.00" y="529.60" font-size="8.4" fill="#505050" text-anchor="middle" font-weight="bold" transform="rotate(-90 459.00 529.60)" textLength="9.6" lengthAdjust="spacingAndGlyphs" >25</text>
<text x="459.00" y="564.80" font-size="8.4" fill="#505050" text-anchor="middle" font-weight="bold" transform="rotate(-90 459.00 564.80)" textLength="14.4" lengthAdjust="spacingAndGlyphs" >120</text>
<text x="459.00" y="633.50" font-size="8.4" fill="#505050" text-anchor="middle" font-weight="bold" transform="rotate(-90 459.00 633.50)" textLength="14.4" lengthAdjust="spacingAndGlyphs" >175</text>
<text x="278.00" y="473.40" font-size="8.4" fill="#505050" text-anchor="middle" font-weight="bold" transform="rotate(-90 278.00 473.40)" textLength="13.2" lengthAdjust="spacingAndGlyphs" >221</text>
<text x="278.00" y="531.50" font-size="7.8" fill="#505050" text-anchor="middle" font-weight="bold" transform="rotate(-90 278.00 531.50)" textLength="8" lengthAdjust="spacingAndGlyphs" >22</text>
<text x="278.00" y="416.50" font-size="7.5" fill="#505050" text-anchor="middle" font-weight="bold" transform="rotate(-90 278.00 416.50)" textLength="7" lengthAdjust="spacingAndGlyphs" >12</text>
<text x="278.00" y="607.80" font-size="8.4" fill="#505050" text-anchor="middle" font-weight="bold" transform="rotate(-90 278.00 607.80)" textLength="14.4" lengthAdjust="spacingAndGlyphs" >295</text>
<text x="373.20" y="470.80" font-size="8.4" fill="#505050" text-anchor="middle" font-weight="bold" transform="rotate(-90 373.20 470.80)" textLength="14.4" lengthAdjust="spacingAndGlyphs" >221</text>
<text x="373.20" y="531.50" font-size="7.8" fill="#505050" text-anchor="middle" font-weight="bold" transform="rotate(-90 373.20 531.50)" textLength="8" lengthAdjust="spacingAndGlyphs" >22</text>
<text x="272.10" y="212.60" font-size="15.7" fill="#c81f36" stroke="#c81f36" stroke-width="0.2" text-anchor="middle" textLength="52" lengthAdjust="spacingAndGlyphs">Спалня</text>
<text x="272.10" y="232.20" font-size="15.7" fill="#c81f36" stroke="#c81f36" stroke-width="0.2" text-anchor="middle" textLength="57.6" lengthAdjust="spacingAndGlyphs">16,81 m<tspan font-size="9.2" dy="-5.5">2</tspan></text>
<text x="420.20" y="212.60" font-size="15.7" fill="#c81f36" stroke="#c81f36" stroke-width="0.2" text-anchor="middle" textLength="52" lengthAdjust="spacingAndGlyphs">Спалня</text>
<text x="420.20" y="232.20" font-size="15.7" fill="#c81f36" stroke="#c81f36" stroke-width="0.2" text-anchor="middle" textLength="57.2" lengthAdjust="spacingAndGlyphs">13,12 m<tspan font-size="9.2" dy="-5.5">2</tspan></text>
<text x="572.30" y="242.80" font-size="15.7" fill="#c81f36" stroke="#c81f36" stroke-width="0.2" text-anchor="middle" textLength="52" lengthAdjust="spacingAndGlyphs">Спалня</text>
<text x="572.30" y="262.40" font-size="15.7" fill="#c81f36" stroke="#c81f36" stroke-width="0.2" text-anchor="middle" textLength="57.6" lengthAdjust="spacingAndGlyphs">13,54 m<tspan font-size="9.2" dy="-5.5">2</tspan></text>
<text x="415.30" y="387.60" font-size="15.7" fill="#c81f36" stroke="#c81f36" stroke-width="0.2" text-anchor="middle" textLength="62.4" lengthAdjust="spacingAndGlyphs">Коридор</text>
<text x="415.30" y="407.20" font-size="15.7" fill="#c81f36" stroke="#c81f36" stroke-width="0.2" text-anchor="middle" textLength="57.4" lengthAdjust="spacingAndGlyphs">11,04 m<tspan font-size="9.2" dy="-5.5">2</tspan></text>
<text x="306.40" y="457.40" font-size="15.7" fill="#c81f36" stroke="#c81f36" stroke-width="0.2" text-anchor="middle" textLength="33.2" lengthAdjust="spacingAndGlyphs">Баня</text>
<text x="306.40" y="477.00" font-size="15.7" fill="#c81f36" stroke="#c81f36" stroke-width="0.2" text-anchor="middle" textLength="49.8" lengthAdjust="spacingAndGlyphs">4,31 m<tspan font-size="9.2" dy="-5.5">2</tspan></text>
<text x="406.10" y="437.30" font-size="15.7" fill="#c81f36" stroke="#c81f36" stroke-width="0.2" text-anchor="middle" textLength="33.2" lengthAdjust="spacingAndGlyphs">Баня</text>
<text x="406.10" y="456.90" font-size="15.7" fill="#c81f36" stroke="#c81f36" stroke-width="0.2" text-anchor="middle" textLength="49.8" lengthAdjust="spacingAndGlyphs">4,02 m<tspan font-size="9.2" dy="-5.5">2</tspan></text>
<text x="384.00" y="601.10" font-size="15.7" fill="#c81f36" stroke="#c81f36" stroke-width="0.2" text-anchor="middle" textLength="52" lengthAdjust="spacingAndGlyphs">Спалня</text>
<text x="384.00" y="620.70" font-size="15.7" fill="#c81f36" stroke="#c81f36" stroke-width="0.2" text-anchor="middle" textLength="57.6" lengthAdjust="spacingAndGlyphs">17,90 m<tspan font-size="9.2" dy="-5.5">2</tspan></text>
<text x="577.20" y="644.40" font-size="15.7" fill="#c81f36" stroke="#c81f36" stroke-width="0.2" text-anchor="middle" textLength="33.2" lengthAdjust="spacingAndGlyphs">Баня</text>
<text x="577.20" y="664.00" font-size="15.7" fill="#c81f36" stroke="#c81f36" stroke-width="0.2" text-anchor="middle" textLength="49.8" lengthAdjust="spacingAndGlyphs">4,99 m<tspan font-size="9.2" dy="-5.5">2</tspan></text>
<text x="130.5" y="705.6" font-size="19.6" font-weight="bold" fill="#c44d4d" fill-opacity="0.62" textLength="137" lengthAdjust="spacingAndGlyphs">ОАНИТ АВОР</text>
</svg>
</body>
</html>
